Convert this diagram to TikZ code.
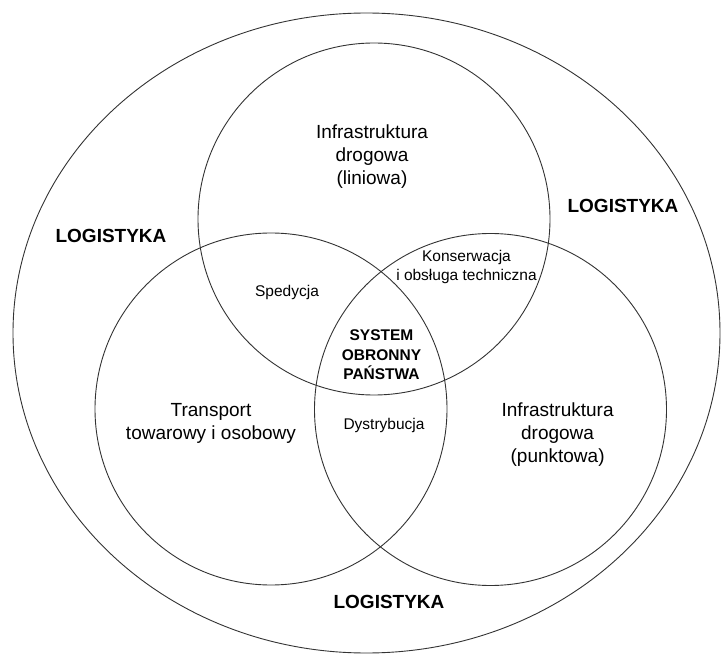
\documentclass[tikz,border=0pt]{standalone}
\usepackage{fontspec}
\setmainfont{Liberation Sans}
\usetikzlibrary{shapes.geometric}

\begin{document}
\begin{tikzpicture}[x=1pt, y=-1pt,
        ring/.style={draw=black!80, line width=0.9pt, circle, minimum size=352pt, inner sep=0pt},
        big/.style={align=center, font=\fontsize{19}{22.8}\selectfont},
        small/.style={align=center, font=\fontsize{15.5}{19.5}\selectfont},
        logi/.style={font=\fontsize{19}{22}\selectfont\bfseries}]
        \useasboundingbox (0,0) rectangle (721,655);
        % circles
        \node[draw=black!80, line width=0.9pt, ellipse, minimum width=707pt, minimum height=640pt, inner sep=0pt] (logistyka) at (366.5,333) {};
        \node[ring] (liniowa) at (374,219) {};
        \node[ring] (transport) at (271,409) {};
        \node[ring] (punktowa) at (490.5,409.5) {};
        % labels
        \node[big] (l1) at (372,156.6) {Infrastruktura\\drogowa\\(liniowa)};
        \node[big] (l2) at (211,423.5) {Transport\\towarowy i osobowy};
        \node[big] (l3) at (557.6,434.4) {Infrastruktura\\drogowa\\(punktowa)};
        \node[small] (l4) at (287,292.5) {Spedycja};
        \node[small] (l5) at (466.5,266.8) {Konserwacja\\i obsługa techniczna};
        \node[small] (l6) at (384,425) {Dystrybucja};
        \node[small, font=\fontsize{15.5}{19.5}\selectfont\bfseries] (sys) at (381.5,355) {SYSTEM\\OBRONNY\\PAŃSTWA};
        \node[logi] (g1) at (111,236) {LOGISTYKA};
        \node[logi] (g2) at (623,205.5) {LOGISTYKA};
        \node[logi] (g3) at (389,602) {LOGISTYKA};
\end{tikzpicture}
\end{document}
